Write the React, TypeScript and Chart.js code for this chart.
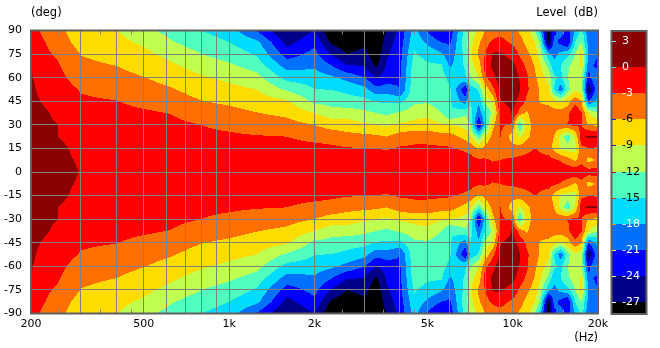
import React, { useEffect, useRef } from "react";
import { Chart, registerables } from "chart.js";

Chart.register(...registerables);

const frequencies = [200, 225, 247, 300, 400, 500, 630, 800, 1000, 1250, 1600, 2000, 2300, 2600, 3000, 3300, 3600, 4000, 4500, 5000, 5600, 6000, 6800, 7100, 7600, 8000, 8500, 9000, 10000, 10600, 11200, 12000, 12500, 13400, 14000, 14800, 15600, 16600, 17500, 18500, 20000];
const angles = [90, 82.5, 75, 67.5, 60, 52.5, 45, 37.5, 30, 22.5, 15, 7.5, 0];

// one row per frequency; values in dB for each angle above (the lower half mirrors it)
const levelsByFrequency = [
  [-2.2, -1.8, -1.2, 0, 0.3, 0.6, 0.8, 1, 1, 1, 1.2, 1.2, 1.2],
  [-3.6, -3, -2.6, -2.2, -1.8, -1.2, -0.4, 0.3, 0.6, 0.8, 1, 1, 1],
  [-5, -4.2, -3.3, -2.6, -2.1, -1.6, -1.1, -0.6, 0.05, 0.05, 0.9, 1, 1],
  [-8, -7.2, -6.1, -5.3, -4.3, -3.2, -2.6, -2.2, -1.8, -1.4, -1, -0.4, -0.1],
  [-8.9, -8.1, -7.1, -6, -5, -4, -2.9, -2.4, -2, -1.6, -1.2, -0.8, -0.6],
  [-11, -9.5, -8.2, -7.1, -5.9, -5, -3.7, -2.6, -2.2, -1.8, -1.3, -0.9, -0.7],
  [-13.2, -11.8, -10, -8.5, -7, -5.8, -4.6, -3.1, -2.4, -1.9, -1.4, -1, -0.8],
  [-15, -13.5, -12, -10.4, -8.6, -7.3, -5.9, -4.4, -3, -2.4, -1.7, -1.2, -1],
  [-16.5, -15, -13.2, -11.5, -9.7, -8.1, -6.6, -5, -3.7, -2.5, -1.8, -1.3, -1],
  [-21.3, -17.2, -15.4, -13.2, -11, -9, -7.5, -5.9, -4.4, -2.8, -2, -1.4, -1.1],
  [-27.3, -25, -22.4, -19.2, -16, -12.5, -8.6, -6.7, -4.9, -3, -2.1, -1.5, -1.2],
  [-24, -21.7, -20, -18.5, -16.5, -14.9, -12.7, -9, -6, -3.8, -2.2, -1.6, -1.3],
  [-30, -27.6, -24.3, -20.9, -17.4, -15.1, -13.1, -10.8, -7.2, -4.3, -2.4, -1.7, -1.4],
  [-30, -29, -27, -23.7, -18.9, -15.7, -13.8, -10.5, -7.5, -5, -2.8, -1.9, -1.5],
  [-30, -27.6, -26, -24.1, -21, -17, -14, -11.3, -8.5, -5.2, -2.9, -1.9, -1.5],
  [-30, -30, -29, -27.6, -24, -20, -15.3, -12, -9, -5.5, -3, -1.9, -1.5],
  [-26.8, -25.5, -24.4, -23.6, -22.8, -19.5, -15.4, -12.6, -9.4, -6, -3.2, -2, -1.5],
  [-23, -22.5, -22, -21.8, -21.4, -21, -15.8, -11.6, -8.6, -4.5, -2.7, -1.9, -1.5],
  [-17, -15.8, -14.6, -13.5, -13, -12.7, -12.6, -10.3, -8, -4, -2.5, -1.9, -1.5],
  [-21.5, -18.5, -16, -14.5, -13.3, -12.8, -12.4, -10, -7.5, -4.4, -2.3, -1.9, -1.5],
  [-24.5, -21, -17.5, -14.5, -13.5, -13.3, -13.5, -12, -8.5, -4.8, -2.5, -1.9, -1.5],
  [-23, -21.5, -20, -18.5, -16, -14.5, -14.5, -15, -9, -4.7, -2.7, -1.9, -1.5],
  [-13.5, -13.5, -14, -14.6, -15.5, -23.5, -19.5, -12.5, -10, -7, -3.4, -2.1, -1.5],
  [-10.5, -10, -9.5, -10, -12, -17, -15, -14, -12, -8.5, -4, -2, -1.3],
  [-8.5, -6.5, -5.3, -7.5, -9, -14.5, -17.5, -19.5, -24.5, -14, -6.5, -2.5, -1.5],
  [-6, -4, -3.1, -1.5, -3.5, -8, -11.5, -15, -16.5, -8.5, -5, -2.6, -1.5],
  [-4.5, -2.6, 0.3, 0.6, -1, -3.8, -8.5, -11, -7, -5, -4, -3.2, -1.5],
  [-4, -2, 0.5, 1.5, 1.5, 0.3, -0.2, -2.5, -2.4, -2.7, -4, -3, -1.6],
  [-4.6, -3.5, -1.2, 1, 2, 2, 1, 0.2, -3.5, -7.5, -5, -2.5, -1.3],
  [-6.5, -5, -3.4, -1.5, -0.2, 0.2, -1, -4.5, -15.5, -9.5, -4.5, -2.2, -1.3],
  [-7.5, -6.8, -5.2, -3.5, -2.5, -2.5, -3.5, -6.5, -8, -7, -3.8, -2, -1.2],
  [-12, -9, -7.5, -6.3, -5.5, -4.5, -4.5, -3.7, -4.2, -4.3, -2.9, -1.8, -1.2],
  [-17, -12.5, -10.5, -8.5, -7.3, -6.5, -6.3, -4.5, -4.2, -4.3, -3.6, -1.9, -1.2],
  [-29, -28, -17, -13, -10, -8.5, -6.8, -4.5, -4.3, -5, -4.5, -2, -1.2],
  [-22, -20, -19, -17, -14.5, -15, -8, -4.6, -4.4, -6, -7, -2.5, -1.2],
  [-19, -22, -17, -15, -15.5, -20, -9, -4.7, -4, -10, -9.5, -3.2, -1.1],
  [-23, -24, -16, -12.5, -12, -13, -7.5, -4, -2.8, -14, -10.5, -4.5, -0.8],
  [-18, -15, -12, -10.5, -11, -9.5, -4, -0.3, -2.4, -9, -10, -6.5, -0.7],
  [-14, -12, -8, -8.5, -12, -11, -6, -2.8, -3, -0.5, -4, -3.8, -1],
  [-20, -19, -18, -20, -22, -27.5, -21, -9, -6.2, 0.5, -3, -7, -1.5],
  [-20, -18, -21, -22, -17, -18, -17, -12, -6.5, 0.5, -3.5, -5.5, -1.5],
];

const bandFloors = [0, -3, -6, -9, -12, -15, -18, -21, -24, -27, -Infinity];
const bandColors: [number, number, number][] = [
  [139, 0, 0], [255, 0, 0], [255, 112, 0], [255, 220, 0], [190, 255, 80],
  [80, 255, 190], [0, 220, 255], [0, 112, 255], [0, 0, 255], [0, 0, 139], [0, 0, 0],
];

const levelTicks = [3, 0, -3, -6, -9, -12, -15, -18, -21, -24, -27];
const levelLabelColors = ["#fff", "#fff", "#fff", "#000", "#000", "#000", "#000", "#fff", "#fff", "#fff", "#fff"];
const gridFrequencies = [200, 300, 400, 500, 600, 700, 800, 900, 1000, 2000, 3000, 4000, 5000, 6000, 7000, 8000, 9000, 10000, 20000];
const minorFrequencies = [250, 350, 450, 2500, 3500, 4500, 15000];
const frequencyLabels: Record<number, string> = { 200: "200", 500: "500", 1000: "1k", 2000: "2k", 5000: "5k", 10000: "10k", 20000: "20k" };

const FONT = '11px "DejaVu Sans"';
const CAPTION_FONT = '11.5px "DejaVu Sans"';
const FRAME = "#606060";
const GRID = "#808080";

const logFrequencies = frequencies.map((f) => Math.log10(f));

function bandIndex(v: number) {
  for (let i = 0; i < bandFloors.length; i++) if (v >= bandFloors[i]) return i;
  return bandFloors.length - 1;
}

function levelAt(freq: number, angle: number) {
  const lf = Math.log10(freq);
  let c = 0;
  while (c < logFrequencies.length - 2 && lf > logFrequencies[c + 1]) c++;
  const tc = Math.min(1, Math.max(0, (lf - logFrequencies[c]) / (logFrequencies[c + 1] - logFrequencies[c])));
  const a = Math.min(90, Math.abs(angle));
  let r = 0;
  while (r < angles.length - 2 && a < angles[r + 1]) r++;
  const tr = (angles[r] - a) / (angles[r] - angles[r + 1]);
  const L = levelsByFrequency;
  const top = L[c][r] * (1 - tc) + L[c + 1][r] * tc;
  const bottom = L[c][r + 1] * (1 - tc) + L[c + 1][r + 1] * tc;
  return top * (1 - tr) + bottom * tr;
}

const contourPlugin = {
  id: "contour",
  beforeDraw(chart: any) {
    const { ctx, chartArea, scales } = chart;
    const left = Math.round(chartArea.left);
    const top = Math.round(chartArea.top);
    const w = Math.round(chartArea.right) - left;
    const h = Math.round(chartArea.bottom) - top;
    const img = ctx.createImageData(w, h);
    const d = img.data;
    const fs: number[] = [];
    for (let i = 0; i < w; i++) fs.push(scales.x.getValueForPixel(left + i + 0.5));
    for (let j = 0; j < h; j++) {
      const ang = scales.y.getValueForPixel(top + j + 0.5);
      for (let i = 0; i < w; i++) {
        const col = bandColors[bandIndex(levelAt(fs[i], ang))];
        const o = (j * w + i) * 4;
        d[o] = col[0];
        d[o + 1] = col[1];
        d[o + 2] = col[2];
        d[o + 3] = 255;
      }
    }
    ctx.putImageData(img, left, top);
  },
  afterDraw(chart: any) {
    const { ctx, chartArea, scales } = chart;
    const { left, right, top, bottom } = chartArea;
    ctx.save();
    // minor frequency marks along top and bottom
    ctx.fillStyle = GRID;
    for (const f of minorFrequencies) {
      const x = Math.round(scales.x.getPixelForValue(f));
      ctx.fillRect(x, top, 1, 4);
      ctx.fillRect(x, bottom - 4, 1, 4);
    }
    // plot frame
    ctx.strokeStyle = FRAME;
    ctx.lineWidth = 2;
    ctx.strokeRect(left, top, right - left, bottom - top);

    // colour bar
    const barL = 612;
    const barR = 646;
    const ly = scales.level;
    const barTop = Math.round(ly.top);
    const barBottom = Math.round(ly.bottom);
    let prev = barTop;
    bandFloors.forEach((floor, i) => {
      const yb = floor === -Infinity ? barBottom : Math.round(ly.getPixelForValue(floor));
      const c = bandColors[i];
      ctx.fillStyle = `rgb(${c[0]},${c[1]},${c[2]})`;
      ctx.fillRect(barL, prev, barR - barL, yb - prev);
      prev = yb;
    });
    ctx.strokeStyle = FRAME;
    ctx.lineWidth = 2;
    ctx.strokeRect(barL - 0.5, barTop, barR - barL + 1, barBottom - barTop);
    ctx.font = FONT;
    ctx.textBaseline = "middle";
    ctx.textAlign = "left";
    levelTicks.forEach((t, i) => {
      const y = Math.round(ly.getPixelForValue(t));
      const c = bandColors[bandIndex(t - 0.01)];
      ctx.fillStyle = `rgb(${255 - c[0]},${255 - c[1]},${255 - c[2]})`;
      ctx.fillRect(barL, y, 4, 1);
      ctx.fillStyle = levelLabelColors[i];
      ctx.fillText(String(t), 622, y + 0.5);
    });

    // axis captions
    ctx.font = CAPTION_FONT;
    ctx.fillStyle = "#000";
    ctx.textAlign = "left";
    ctx.fillText("(deg)", 31, 13);
    ctx.textAlign = "right";
    ctx.fillText("Level  (dB)", 598, 13);
    ctx.fillText("(Hz)", 598, 338);
    ctx.restore();
  },
};

export default function App() {
  const ref = useRef<HTMLCanvasElement>(null);
  useEffect(() => {
    const points: { x: number; y: number }[] = [];
    frequencies.forEach((f) => {
      angles.forEach((a) => {
        points.push({ x: f, y: a });
        if (a !== 0) points.push({ x: f, y: -a });
      });
    });
    const chart = new Chart(ref.current as HTMLCanvasElement, {
      type: "scatter",
      data: { datasets: [{ label: "Level", data: points, pointRadius: 0, pointHoverRadius: 0 }] },
      plugins: [contourPlugin],
      options: {
        responsive: false,
        animation: false,
        events: [],
        layout: { padding: { top: 30.5, right: 62, left: 0, bottom: 0 } },
        plugins: { legend: { display: false }, tooltip: { enabled: false } },
        scales: {
          x: {
            type: "logarithmic",
            min: 200,
            max: 20000,
            afterBuildTicks: (s: any) => {
              s.ticks = gridFrequencies.map((value) => ({ value }));
            },
            afterFit: (s: any) => {
              s.height = 34.5;
            },
            grid: { color: GRID, lineWidth: 1, drawTicks: false },
            border: { display: false },
            ticks: {
              autoSkip: false,
              maxRotation: 0,
              padding: 4,
              color: "#000",
              font: { family: "DejaVu Sans", size: 11 },
              callback: (v: any) => frequencyLabels[v] ?? "",
            },
          },
          y: {
            type: "linear",
            min: -90,
            max: 90,
            afterFit: (s: any) => {
              s.width = 31;
            },
            grid: { color: GRID, lineWidth: 1, drawTicks: false },
            border: { display: false },
            ticks: {
              stepSize: 15,
              padding: 9,
              color: "#000",
              font: { family: "DejaVu Sans", size: 11 },
            },
          },
          level: {
            type: "linear",
            position: "right",
            display: false,
            min: -28.3,
            max: 4.2,
          },
        },
      },
    } as any);
    return () => chart.destroy();
  }, []);
  return (
    <div style={{ position: "absolute", left: 0, top: 0, width: 660, height: 348, background: "#fff" }}>
      <canvas ref={ref} width={660} height={348} style={{ display: "block" }} />
    </div>
  );
}
